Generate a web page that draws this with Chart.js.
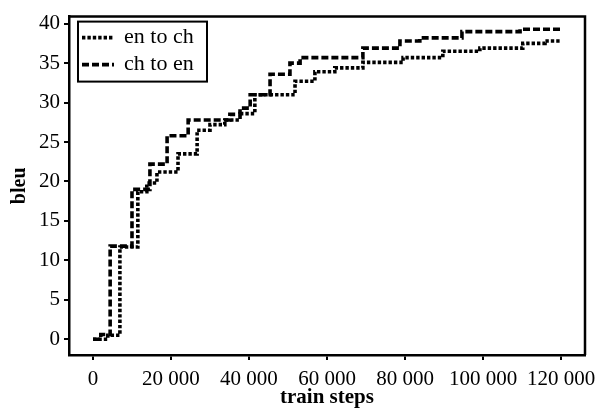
<!DOCTYPE html>
<html>
<head>
<meta charset="utf-8">
<script src="https://cdn.jsdelivr.net/npm/chart.js@4"></script>
<style>
  html, body { margin: 0; padding: 0; background: #fff; }
  #wrap { width: 603px; height: 410px; }
</style>
</head>
<body>
<div id="wrap"><canvas id="chart" width="603" height="410"></canvas></div>
<script>
// ===== Data =====
const seriesNames = ['en to ch', 'ch to en'];

// en to ch: step positions and the bleu value reached at each step
const enChSteps = [0, 3800, 6900, 11500, 13800, 16400, 21800, 26700, 30000, 33800, 37700, 41500, 51800, 56900, 62000, 69200, 79500, 89700, 99200, 110200, 115900, 120000];
const enChBleu  = [0, 0.5, 11.7, 18.7, 19.8, 21.2, 23.5, 26.5, 27.2, 27.8, 28.6, 31.0, 32.7, 33.9, 34.4, 35.1, 35.7, 36.5, 36.9, 37.5, 37.8, 37.8];

// ch to en
const chEnSteps = [0, 2000, 4400, 10000, 14600, 19000, 24400, 35100, 37700, 40300, 45400, 50500, 53100, 69200, 78700, 83800, 94600, 109500, 120000];
const chEnBleu  = [0, 0.6, 11.8, 19.0, 22.2, 25.8, 27.8, 28.5, 29.3, 31.0, 33.6, 35.0, 35.7, 36.9, 37.8, 38.2, 39.0, 39.3, 39.3];

const xTicks = [0, 20000, 40000, 60000, 80000, 100000, 120000];
const yTicks = [0, 5, 10, 15, 20, 25, 30, 35, 40];

const serif = "'Liberation Serif', 'Times New Roman', serif";

const toPoints = (xs, ys) => xs.map((x, i) => ({ x: x, y: ys[i] }));

// boxed legend drawn inside the plot, top-left
const boxLegend = {
  id: 'boxLegend',
  afterDatasetsDraw(chart) {
    const ctx = chart.ctx;
    const a = chart.chartArea;
    const bx = a.left + 9, by = a.top + 5, bw = 129, bh = 60;
    ctx.save();
    ctx.strokeStyle = '#000';
    ctx.lineWidth = 2;
    ctx.strokeRect(bx, by, bw, bh);
    chart.data.datasets.forEach((ds, i) => {
      const y = by + 16 + i * 27;
      ctx.beginPath();
      ctx.setLineDash(ds.borderDash);
      ctx.lineWidth = ds.borderWidth;
      ctx.moveTo(bx + 4, y);
      ctx.lineTo(bx + 36, y);
      ctx.stroke();
      ctx.setLineDash([]);
      ctx.fillStyle = '#000';
      ctx.font = '22px ' + serif;
      ctx.textBaseline = 'middle';
      ctx.fillText(ds.label, bx + 46, y);
    });
    ctx.restore();
  }
};

// frame on top and right of the plot
const frame = {
  id: 'frame',
  afterDraw(chart) {
    const ctx = chart.ctx;
    const a = chart.chartArea;
    ctx.save();
    ctx.strokeStyle = '#000';
    ctx.lineWidth = 2.5;
    ctx.beginPath();
    ctx.moveTo(a.left, a.top);
    ctx.lineTo(a.right, a.top);
    ctx.lineTo(a.right, a.bottom);
    ctx.stroke();
    ctx.restore();
  }
};

new Chart(document.getElementById('chart'), {
  type: 'line',
  data: {
    datasets: [
      {
        label: seriesNames[0],
        data: toPoints(enChSteps, enChBleu),
        borderColor: '#000',
        borderWidth: 3.6,
        borderDash: [3.4, 2],
        stepped: true,
        pointRadius: 0,
        fill: false
      },
      {
        label: seriesNames[1],
        data: toPoints(chEnSteps, chEnBleu),
        borderColor: '#000',
        borderWidth: 3.6,
        borderDash: [7, 3],
        stepped: true,
        pointRadius: 0,
        fill: false
      }
    ]
  },
  options: {
    responsive: false,
    animation: false,
    layout: { padding: { left: 0, right: 18, top: 13, bottom: 0 } },
    plugins: {
      legend: { display: false },
      tooltip: { enabled: false }
    },
    scales: {
      x: {
        type: 'linear',
        min: -6150,
        max: 126150,
        afterBuildTicks: (scale) => { scale.ticks = xTicks.map(v => ({ value: v })); },
        afterFit: (scale) => { scale.height = 55; },
        ticks: {
          color: '#000',
          font: { family: serif, size: 21 },
          padding: 7,
          maxRotation: 0,
          autoSkip: false,
          callback: (v) => String(v).replace(/\B(?=(\d{3})+(?!\d))/g, ' ')
        },
        grid: { drawOnChartArea: false, drawTicks: true, tickLength: 5, color: '#000', lineWidth: 2 },
        border: { display: true, color: '#000', width: 2.5 },
        title: {
          display: true,
          text: 'train steps',
          color: '#000',
          font: { family: serif, size: 21, weight: 'bold' },
          padding: { top: -9, bottom: 0 }
        }
      },
      y: {
        min: -2,
        max: 40.9,
        afterBuildTicks: (scale) => { scale.ticks = yTicks.map(v => ({ value: v })); },
        afterFit: (scale) => { scale.width = 69; },
        ticks: {
          color: '#000',
          font: { family: serif, size: 21 },
          padding: 4
        },
        grid: { drawOnChartArea: false, drawTicks: true, tickLength: 5, color: '#000', lineWidth: 2 },
        border: { display: true, color: '#000', width: 2.5 },
        title: {
          display: true,
          text: 'bleu',
          color: '#000',
          font: { family: serif, size: 20, weight: 'bold' },
          padding: { top: 8, bottom: 0 }
        }
      }
    }
  },
  plugins: [boxLegend, frame]
});
</script>
</body>
</html>
